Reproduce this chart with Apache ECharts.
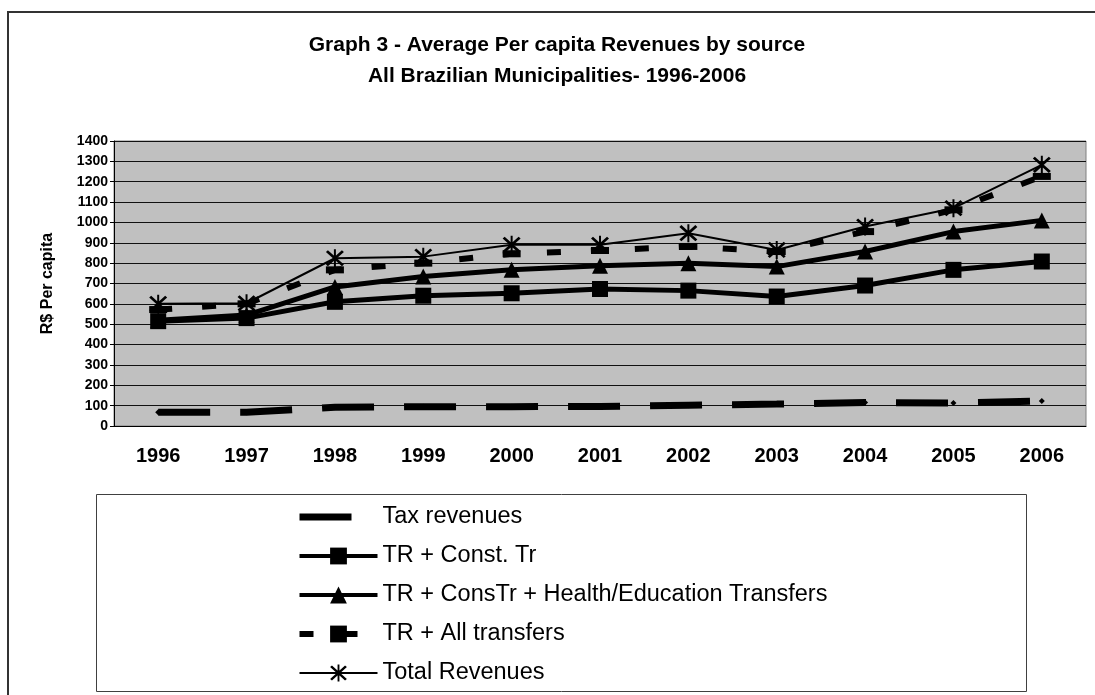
<!DOCTYPE html>
<html>
<head>
<meta charset="utf-8">
<script src="https://cdn.jsdelivr.net/npm/echarts@6/dist/echarts.min.js"></script>
<style>
  html, body { margin: 0; padding: 0; background: #fff; }
  #chart { width: 1095px; height: 695px; }
</style>
</head>
<body>
<div id="chart"></div>
<script>
// Years on the category axis
const years = ['1996', '1997', '1998', '1999', '2000', '2001', '2002', '2003', '2004', '2005', '2006'];

// Average per capita revenues (R$) by source
const taxRevenues    = [67, 68, 92, 95, 95, 96, 102, 108, 115, 113, 123];
const trConstTr      = [515, 530, 610, 640, 652, 673, 665, 636, 690, 767, 808];
const trHealthEdu    = [520, 545, 683, 734, 767, 787, 800, 783, 857, 955, 1010];
const trAllTransfers = [572, 600, 767, 800, 846, 862, 882, 857, 955, 1062, 1226];
const totalRevenues  = [600, 603, 824, 832, 890, 890, 947, 865, 980, 1070, 1283];

const seriesNames = [
  'Tax revenues',
  'TR + Const. Tr',
  'TR + ConsTr + Health/Education Transfers',
  'TR + All transfers',
  'Total Revenues'
];

const titleLines = [
  'Graph 3 - Average Per capita Revenues by source',
  'All Brazilian Municipalities- 1996-2006'
];

// asterisk marker: vertical bar plus two diagonals
const starSymbol = 'path://M9,0L11,0L11,20L9,20Z M1,3L3,1L19,17L17,19Z M17,1L19,3L3,19L1,17Z';

const FONT = "'Liberation Sans', Arial, sans-serif";

const chart = echarts.init(document.getElementById('chart'), null, { renderer: 'canvas' });

chart.setOption({
  animation: false,
  backgroundColor: '#ffffff',
  textStyle: { fontFamily: FONT },
  graphic: [
    {
      type: 'rect', z: -10, silent: true,
      shape: { x: 8, y: 12, width: 1100, height: 700 },
      style: { fill: '#ffffff', stroke: '#333333', lineWidth: 2 }
    },
    {
      type: 'rect', z: -5, silent: true,
      shape: { x: 96.5, y: 494.5, width: 930, height: 197 },
      style: { fill: '#ffffff', stroke: '#404040', lineWidth: 1 }
    },
    {
      type: 'text', silent: true, x: 557, y: 45,
      style: { text: titleLines[0], font: "bold 21px " + FONT, fill: '#000', align: 'center', verticalAlign: 'middle' }
    },
    {
      type: 'text', silent: true, x: 557, y: 76,
      style: { text: titleLines[1], font: "bold 21px " + FONT, fill: '#000', align: 'center', verticalAlign: 'middle' }
    }
  ],
  grid: {
    left: 114, right: 9, top: 141, bottom: 269,
    show: true, backgroundColor: '#c0c0c0', borderColor: '#808080', borderWidth: 1
  },
  legend: {
    orient: 'vertical',
    left: 296, top: 505,
    padding: 0,
    itemWidth: 78, itemHeight: 21, itemGap: 15,
    textStyle: { fontFamily: FONT, fontSize: 23.5, lineHeight: 24, color: '#000' },
    data: [
      { name: seriesNames[0], itemStyle: { opacity: 0 }, lineStyle: { width: 7 } },
      { name: seriesNames[1], lineStyle: { width: 4 } },
      { name: seriesNames[2], lineStyle: { width: 4 } },
      { name: seriesNames[3], lineStyle: { width: 6 } },
      { name: seriesNames[4], lineStyle: { width: 2 } }
    ]
  },
  xAxis: {
    type: 'category',
    data: years,
    boundaryGap: true,
    axisLine: { lineStyle: { color: '#000', width: 1 } },
    axisTick: { length: 6, lineStyle: { color: '#000' } },
    axisLabel: { color: '#000', fontWeight: 'bold', fontSize: 20, margin: 20, fontFamily: FONT }
  },
  yAxis: {
    type: 'value',
    min: 0, max: 1400, interval: 100,
    name: 'R$ Per capita',
    nameLocation: 'middle',
    nameGap: 58,
    nameTextStyle: { color: '#000', fontWeight: 'bold', fontSize: 16, fontFamily: FONT },
    axisLine: { show: true, lineStyle: { color: '#000', width: 1 } },
    axisTick: { show: true, length: 4, lineStyle: { color: '#000' } },
    axisLabel: {
      color: '#000', fontWeight: 'bold', fontSize: 14, margin: 6, fontFamily: FONT,
      formatter: (v) => String(v)
    },
    splitLine: { show: true, lineStyle: { color: '#111', width: 1 } }
  },
  series: [
    {
      name: seriesNames[0], type: 'line', data: taxRevenues,
      symbol: 'diamond', symbolSize: 6,
      itemStyle: { color: '#000' },
      lineStyle: { color: '#000', width: 7, type: [52, 30], cap: 'butt' }
    },
    {
      name: seriesNames[1], type: 'line', data: trConstTr,
      symbol: 'rect', symbolSize: 16,
      itemStyle: { color: '#000' },
      lineStyle: { color: '#000', width: 5 }
    },
    {
      name: seriesNames[2], type: 'line', data: trHealthEdu,
      symbol: 'triangle', symbolSize: 16,
      itemStyle: { color: '#000' },
      lineStyle: { color: '#000', width: 5 }
    },
    {
      name: seriesNames[3], type: 'line', data: trAllTransfers,
      symbol: 'rect', symbolSize: [18, 7],
      itemStyle: { color: '#000' },
      lineStyle: { color: '#000', width: 6, type: [14, 30], cap: 'butt' }
    },
    {
      name: seriesNames[4], type: 'line', data: totalRevenues,
      symbol: starSymbol, symbolSize: 18,
      itemStyle: { color: '#000' },
      lineStyle: { color: '#000', width: 2 }
    }
  ]
});
</script>
</body>
</html>
